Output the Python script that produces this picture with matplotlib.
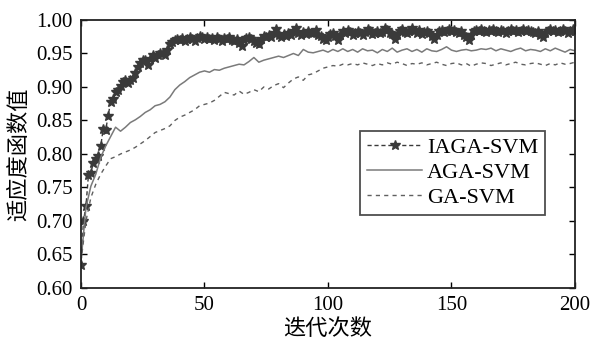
import matplotlib
matplotlib.use("Agg")
import matplotlib.pyplot as plt
import numpy as np

# iterations
iter_all = list(range(0, 201))
iter_half = list(range(0, 201, 2))

# IAGA-SVM, one value per iteration
iaga = [
    0.635, 0.700, 0.722, 0.768, 0.772, 0.787, 0.792, 0.797, 0.812, 0.838,
    0.836, 0.857, 0.878, 0.882, 0.893, 0.896, 0.901, 0.907, 0.910, 0.906,
    0.910, 0.914, 0.921, 0.930, 0.936, 0.941, 0.940, 0.933, 0.942, 0.948,
    0.944, 0.948, 0.951, 0.950, 0.947, 0.955, 0.964, 0.967, 0.970, 0.972,
    0.970, 0.973, 0.968, 0.971, 0.974, 0.972, 0.969, 0.973, 0.976, 0.974,
    0.972, 0.975, 0.971, 0.973, 0.970, 0.974, 0.972, 0.969, 0.973, 0.971,
    0.974, 0.970, 0.968, 0.972, 0.966, 0.961, 0.970, 0.973, 0.975, 0.971,
    0.969, 0.966, 0.964, 0.972, 0.976, 0.974, 0.978, 0.975, 0.980, 0.986,
    0.977, 0.974, 0.979, 0.976, 0.981, 0.978, 0.983, 0.988, 0.980, 0.977,
    0.982, 0.979, 0.984, 0.981, 0.980, 0.985, 0.978, 0.976, 0.972, 0.970,
    0.975, 0.979, 0.981, 0.976, 0.970, 0.978, 0.983, 0.980, 0.985, 0.982,
    0.978, 0.981, 0.984, 0.980, 0.977, 0.982, 0.986, 0.983, 0.979, 0.981,
    0.984, 0.980, 0.982, 0.988, 0.985, 0.981, 0.979, 0.972, 0.978, 0.983,
    0.986, 0.982, 0.980, 0.984, 0.988, 0.983, 0.981, 0.985, 0.979, 0.982,
    0.984, 0.980, 0.976, 0.972, 0.978, 0.983, 0.985, 0.982, 0.984, 0.986,
    0.983, 0.985, 0.982, 0.980, 0.984, 0.978, 0.974, 0.970, 0.978, 0.983,
    0.985, 0.983, 0.986, 0.984, 0.982, 0.985, 0.983, 0.986, 0.984, 0.982,
    0.985, 0.983, 0.981, 0.984, 0.986, 0.983, 0.985, 0.982, 0.984, 0.986,
    0.983, 0.985, 0.984, 0.982, 0.980, 0.984, 0.978, 0.975, 0.981, 0.984,
    0.986, 0.983, 0.985, 0.982, 0.984, 0.986, 0.983, 0.981, 0.984, 0.986,
    0.983,
]

# AGA-SVM, every 2 iterations
aga = [
    0.640, 0.720, 0.752, 0.770, 0.795, 0.812, 0.826, 0.840, 0.834, 0.840,
    0.847, 0.851, 0.856, 0.862, 0.866, 0.872, 0.874, 0.878, 0.885, 0.896,
    0.903, 0.908, 0.914, 0.918, 0.922, 0.924, 0.922, 0.926, 0.925, 0.928,
    0.930, 0.932, 0.934, 0.933, 0.938, 0.944, 0.937, 0.940, 0.942, 0.944,
    0.946, 0.944, 0.947, 0.950, 0.947, 0.956, 0.952, 0.951, 0.953, 0.955,
    0.952, 0.956, 0.953, 0.957, 0.953, 0.956, 0.952, 0.957, 0.954, 0.955,
    0.951, 0.956, 0.953, 0.958, 0.952, 0.955, 0.957, 0.953, 0.956, 0.952,
    0.957, 0.954, 0.953, 0.956, 0.960, 0.955, 0.953, 0.955, 0.956, 0.954,
    0.955, 0.957, 0.956, 0.958, 0.954, 0.957, 0.955, 0.953, 0.956, 0.958,
    0.954, 0.956, 0.955, 0.953, 0.957, 0.954, 0.958, 0.955, 0.952, 0.956,
    0.954,
]

# GA-SVM, every 2 iterations
ga = [
    0.640, 0.700, 0.735, 0.755, 0.770, 0.782, 0.793, 0.796, 0.800, 0.803,
    0.806, 0.810, 0.815, 0.820, 0.826, 0.832, 0.835, 0.838, 0.842, 0.850,
    0.855, 0.858, 0.862, 0.866, 0.872, 0.874, 0.876, 0.880, 0.886, 0.892,
    0.890, 0.888, 0.894, 0.889, 0.892, 0.896, 0.893, 0.900, 0.897, 0.902,
    0.905, 0.899, 0.906, 0.912, 0.915, 0.910, 0.918, 0.920, 0.924, 0.928,
    0.930, 0.932, 0.931, 0.934, 0.933, 0.935, 0.933, 0.936, 0.934, 0.932,
    0.935, 0.933, 0.936, 0.934, 0.937, 0.935, 0.932, 0.935, 0.934, 0.936,
    0.933, 0.935, 0.937, 0.934, 0.932, 0.935, 0.936, 0.933, 0.935, 0.931,
    0.934, 0.936, 0.935, 0.932, 0.934, 0.936, 0.933, 0.935, 0.937, 0.934,
    0.933, 0.935, 0.936, 0.934, 0.932, 0.935, 0.933, 0.936, 0.934, 0.935,
    0.937,
]

labels = ['IAGA-SVM', 'AGA-SVM', 'GA-SVM']
xticks = [0, 50, 100, 150, 200]
yticks = [0.60, 0.65, 0.70, 0.75, 0.80, 0.85, 0.90, 0.95, 1.00]

plt.rcParams['font.family'] = ['Liberation Serif', 'Noto Sans CJK SC']
plt.rcParams['font.size'] = 16

fig = plt.figure(figsize=(5.93, 3.44), dpi=100)
ax = fig.add_axes([0.1366, 0.1628, 0.8330, 0.7791])

ax.plot(iter_all, iaga, linestyle=(0, (3, 2)), color='#3a3a3a', lw=1.0,
        marker='*', markersize=7.5, markeredgewidth=1.0, label=labels[0])
ax.plot(iter_half, aga, linestyle='-', color='#7a7a7a', lw=1.1, label=labels[1])
ax.plot(iter_half, ga, linestyle=(0, (3, 3)), color='#606060', lw=1.0, label=labels[2])

ax.set_xlim(0, 200)
ax.set_ylim(0.60, 1.00)
ax.set_xticks(xticks)
ax.set_yticks(yticks)
ax.set_yticklabels(['%.2f' % v for v in yticks])
ax.tick_params(direction='in', top=True, right=True, length=4, width=1, pad=6,
               labelsize=15)
for s in ax.spines.values():
    s.set_linewidth(1.3)
    s.set_color('#222222')

ax.set_xlabel('迭代次数', labelpad=3)
ax.set_ylabel('适应度函数值', labelpad=4)

leg = ax.legend(loc='upper left', bbox_to_anchor=(0.565, 0.586), frameon=True,
                fancybox=False, edgecolor='#222222', fontsize=16,
                handlelength=2.5, handletextpad=0.2, borderpad=0.3,
                labelspacing=0.2, borderaxespad=0)
leg.get_frame().set_linewidth(1.3)

fig.savefig('out.png', dpi=100)
